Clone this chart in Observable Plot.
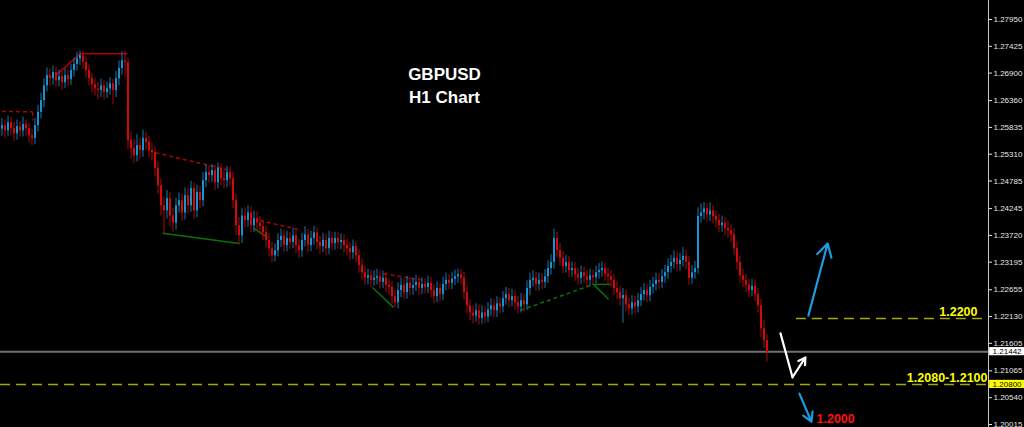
<!DOCTYPE html>
<html><head><meta charset="utf-8">
<script src="https://cdn.jsdelivr.net/npm/d3@7"></script>
<script src="https://cdn.jsdelivr.net/npm/@observablehq/plot@0.6"></script>
<style>html,body{margin:0;padding:0;background:#000;overflow:hidden}</style>
</head><body><div id="chart"></div>
<script>
// ---- data (GBPUSD H1) ----
const firstOpen = 1.2580;
const closes = [
1.2587,1.2577,1.2593,1.2581,1.2571,1.2585,1.2577,1.2589,1.2581,1.2567,1.2562,
1.2587,1.2613,1.2636,1.2665,1.2685,
1.2679,1.2691,1.2675,1.2683,1.2671,1.2685,1.2677,
1.2695,1.2707,1.2718,1.2724,
1.2711,1.2695,1.2679,1.2667,1.2659,1.2656,
1.2665,1.2652,1.2659,1.2669,1.2656,
1.2679,1.2699,1.2714,1.2711,
1.2558,
1.2542,1.2528,1.2548,1.2538,1.2562,1.2554,1.2538,1.2534,
1.2503,1.2469,1.2430,
1.2420,1.2444,1.2410,1.2396,1.2430,1.2440,1.2416,1.2450,1.2430,1.2464,1.2420,1.2456,1.2440,
1.2479,1.2495,
1.2489,1.2499,1.2475,1.2503,1.2483,1.2479,1.2495,1.2483,
1.2440,1.2391,1.2371,
1.2410,1.2401,1.2416,1.2391,1.2405,1.2396,1.2389,
1.2377,1.2362,1.2346,1.2332,1.2342,
1.2362,1.2370,1.2352,1.2366,1.2358,1.2371,1.2352,
1.2342,1.2362,1.2373,1.2352,1.2366,1.2377,1.2358,1.2350,
1.2362,1.2346,1.2366,1.2356,
1.2366,1.2358,1.2362,1.2352,
1.2346,1.2338,1.2350,1.2332,
1.2313,1.2299,1.2288,
1.2293,1.2284,1.2288,
1.2291,1.2280,1.2288,1.2274,1.2270,
1.2252,1.2240,
1.2264,1.2274,1.2260,1.2278,1.2268,
1.2274,1.2280,1.2268,1.2276,1.2270,1.2278,
1.2264,1.2252,1.2268,1.2256,
1.2276,1.2284,1.2278,1.2286,
1.2291,1.2295,1.2288,
1.2260,1.2234,1.2220,
1.2214,1.2224,1.2209,1.2220,1.2212,1.2226,
1.2234,1.2224,1.2238,1.2232,
1.2248,1.2256,1.2244,1.2252,
1.2240,1.2232,1.2244,1.2236,
1.2268,1.2284,1.2288,
1.2276,1.2284,1.2280,1.2291,
1.2307,1.2319,
1.2366,
1.2342,1.2327,1.2311,1.2319,1.2303,1.2307,
1.2295,1.2288,1.2299,1.2291,1.2284,1.2293,1.2289,
1.2299,1.2303,1.2307,1.2295,1.2291,1.2284,
1.2268,1.2260,1.2248,1.2254,
1.2236,1.2228,1.2240,1.2232,1.2244,
1.2256,1.2264,1.2254,1.2270,
1.2276,1.2284,1.2280,1.2291,1.2299,
1.2311,1.2319,1.2327,1.2315,1.2323,1.2331,
1.2319,1.2288,
1.2299,1.2307,
1.2409,
1.2416,1.2424,1.2412,1.2420,1.2409,
1.2401,1.2391,1.2396,1.2385,
1.2381,1.2373,
1.2346,1.2319,1.2293,1.2284,
1.2274,1.2264,1.2272,1.2256,
1.2234,1.2189,
1.2166,1.2142
];
const highs = [
1.2601,1.2598,1.2606,1.2603,1.2594,1.2598,1.2595,1.2604,1.2598,1.2591,1.2580,
1.2601,1.2627,1.2651,1.2679,1.2700,
1.2698,1.2704,1.2701,1.2696,1.2693,1.2698,1.2695,
1.2707,1.2719,1.2731,1.2733,
1.2732,1.2722,1.2706,1.2690,1.2679,1.2672,
1.2678,1.2675,1.2672,1.2681,1.2678,
1.2693,1.2714,1.2732,1.2733,
1.2718,
1.2575,1.2560,1.2569,1.2563,1.2578,1.2574,1.2566,1.2553,
1.2546,1.2516,1.2483,
1.2447,1.2460,1.2456,1.2425,1.2445,1.2455,1.2453,1.2465,1.2463,1.2478,1.2475,1.2470,1.2468,
1.2495,1.2510,
1.2508,1.2511,1.2510,1.2514,1.2512,1.2498,1.2507,1.2506,
1.2496,1.2453,1.2407,
1.2425,1.2426,1.2430,1.2428,1.2419,1.2418,1.2409,
1.2401,1.2390,1.2375,1.2358,1.2356,
1.2375,1.2384,1.2382,1.2380,1.2378,1.2386,1.2382,
1.2364,1.2376,1.2389,1.2384,1.2380,1.2390,1.2387,1.2370,
1.2376,1.2374,1.2380,1.2377,
1.2378,1.2377,1.2375,1.2373,
1.2364,1.2358,1.2363,1.2361,
1.2344,1.2326,1.2311,
1.2306,1.2304,1.2303,
1.2306,1.2303,1.2302,1.2300,1.2286,
1.2282,1.2264,
1.2279,1.2288,1.2286,1.2292,1.2289,
1.2288,1.2294,1.2291,1.2289,1.2287,1.2292,
1.2290,1.2276,1.2281,1.2279,
1.2290,1.2298,1.2295,1.2300,
1.2304,1.2306,1.2305,
1.2300,1.2272,1.2246,
1.2234,1.2238,1.2236,1.2234,1.2232,1.2240,
1.2248,1.2246,1.2252,1.2250,
1.2262,1.2270,1.2268,1.2266,
1.2264,1.2252,1.2258,1.2256,
1.2283,1.2298,1.2303,
1.2300,1.2298,1.2297,1.2305,
1.2322,1.2334,
1.2384,
1.2378,1.2356,1.2340,1.2333,1.2331,1.2320,
1.2319,1.2308,1.2312,1.2310,1.2303,1.2306,1.2304,
1.2312,1.2317,1.2320,1.2318,1.2308,1.2303,
1.2296,1.2281,1.2272,1.2268,
1.2265,1.2249,1.2254,1.2252,1.2258,
1.2270,1.2278,1.2276,1.2284,
1.2290,1.2298,1.2297,1.2305,1.2313,
1.2326,1.2333,1.2342,1.2339,1.2337,1.2348,
1.2344,1.2331,
1.2313,1.2321,
1.2426,
1.2434,1.2436,1.2434,1.2436,1.2430,
1.2420,1.2413,1.2410,1.2407,
1.2400,1.2393,
1.2385,1.2358,1.2331,1.2306,
1.2296,1.2286,1.2286,1.2284,
1.2268,1.2246,
1.2206,1.2178
];
const lows = [
1.2566,1.2562,1.2566,1.2568,1.2556,1.2559,1.2564,1.2565,1.2567,1.2553,1.2548,
1.2550,1.2575,1.2600,1.2622,1.2653,
1.2664,1.2666,1.2662,1.2663,1.2657,1.2660,1.2664,
1.2666,1.2682,1.2694,1.2705,
1.2697,1.2680,1.2665,1.2652,1.2645,1.2638,
1.2642,1.2637,1.2640,1.2647,1.2628,
1.2642,1.2665,1.2686,1.2682,
1.2540,
1.2522,1.2512,1.2516,1.2522,1.2525,1.2538,1.2524,1.2518,
1.2487,1.2452,1.2410,
1.2376,1.2404,1.2390,1.2378,1.2382,1.2416,1.2400,1.2402,1.2414,1.2417,1.2404,1.2407,1.2424,
1.2428,1.2465,
1.2474,1.2476,1.2460,1.2463,1.2469,1.2464,1.2466,1.2468,
1.2424,1.2372,1.2354,
1.2356,1.2387,1.2388,1.2377,1.2378,1.2382,1.2374,
1.2362,1.2347,1.2330,1.2318,1.2320,
1.2330,1.2348,1.2338,1.2340,1.2344,1.2346,1.2337,
1.2327,1.2329,1.2349,1.2338,1.2340,1.2353,1.2344,1.2335,
1.2338,1.2332,1.2334,1.2342,
1.2343,1.2345,1.2344,1.2338,
1.2332,1.2322,1.2325,1.2318,
1.2298,1.2284,1.2274,
1.2275,1.2270,1.2272,
1.2275,1.2267,1.2268,1.2260,1.2254,
1.2237,1.2230,
1.2228,1.2250,1.2246,1.2247,1.2254,
1.2255,1.2262,1.2254,1.2256,1.2257,1.2258,
1.2250,1.2238,1.2240,1.2242,
1.2244,1.2263,1.2265,1.2266,
1.2274,1.2278,1.2275,
1.2246,1.2218,1.2205,
1.2199,1.2202,1.2196,1.2198,1.2199,1.2201,
1.2213,1.2210,1.2211,1.2218,
1.2220,1.2235,1.2230,1.2232,
1.2226,1.2218,1.2220,1.2222,
1.2225,1.2254,1.2271,
1.2262,1.2263,1.2266,1.2268,
1.2278,1.2294,
1.2306,
1.2328,1.2312,1.2297,1.2298,1.2289,1.2290,
1.2282,1.2274,1.2276,1.2278,1.2270,1.2272,1.2276,
1.2277,1.2286,1.2290,1.2282,1.2277,1.2270,
1.2254,1.2246,1.2234,1.2200,
1.2222,1.2215,1.2216,1.2218,1.2220,
1.2232,1.2243,1.2240,1.2242,
1.2257,1.2263,1.2266,1.2268,1.2278,
1.2286,1.2298,1.2306,1.2301,1.2302,1.2310,
1.2305,1.2274,
1.2276,1.2286,
1.2296,
1.2396,1.2402,1.2398,1.2399,1.2395,
1.2387,1.2377,1.2378,1.2371,
1.2366,1.2358,
1.2332,1.2304,1.2278,1.2270,
1.2260,1.2250,1.2252,1.2242,
1.2220,1.2172,
1.2150,1.2124
];
const yTicks = [1.27950,1.27425,1.26900,1.26360,1.25835,1.25310,1.24785,1.24245,1.23720,1.23195,1.22655,1.22130,1.21605,1.21065,1.20540,1.20015];
const currentPrice = 1.21442;
const supportLevel = 1.2080;
const resistanceLevel = 1.2209;
const targetLevel = 1.2000;
const titleLines = ["GBPUSD", "H1 Chart"];
const priceTags = [
  {price: 1.21442, label: "1.21442", bg: "#ffffff"},
  {price: 1.20800, label: "1.20800", bg: "#ffff00"}
];
// trend-line annotations (bar index, price)
const trendLines = [
  {x1: 0, y1: 1.2615, x2: 10.2, y2: 1.2614, c: "red", dash: true},
  {x1: 10.2, y1: 1.2614, x2: 10.2, y2: 1.2597, c: "red", dash: true},
  {x1: 17.8, y1: 1.2685, x2: 26.2, y2: 1.2728, c: "red", dash: false},
  {x1: 26.2, y1: 1.2728, x2: 41.8, y2: 1.2728, c: "red", dash: false},
  {x1: 51.2, y1: 1.2534, x2: 76.2, y2: 1.2499, c: "red", dash: true},
  {x1: 53.5, y1: 1.2376, x2: 79.2, y2: 1.2356, c: "green", dash: false},
  {x1: 86, y1: 1.2401, x2: 98.5, y2: 1.2384, c: "red", dash: true},
  {x1: 83.8, y1: 1.2386, x2: 88.5, y2: 1.2368, c: "green", dash: false},
  {x1: 127.2, y1: 1.2297, x2: 140.5, y2: 1.2284, c: "red", dash: true},
  {x1: 123.5, y1: 1.2270, x2: 130.5, y2: 1.2231, c: "green", dash: false},
  {x1: 172.8, y1: 1.2225, x2: 196.2, y2: 1.2274, c: "green", dash: true},
  {x1: 196.8, y1: 1.2276, x2: 202.8, y2: 1.2276, c: "green", dash: false},
  {x1: 197.2, y1: 1.2276, x2: 202.2, y2: 1.2247, c: "green", dash: false}
];
// scenario arrows (bar index, price)
const arrowsBlue = [
  {x1: 268.8, y1: 1.2215, x2: 275.2, y2: 1.2356},
  {x1: 265.8, y1: 1.2062, x2: 269.8, y2: 1.2007}
];
const whitePath = [{x: 259.5, y: 1.2180}, {x: 263.5, y: 1.2094}];
const whiteArrow = [{x1: 263.5, y1: 1.2094, x2: 267.8, y2: 1.2133}];

// ---- build ----
const candles = closes.map((c, i) => ({
  i, open: i === 0 ? firstOpen : closes[i - 1], close: c, high: highs[i], low: lows[i]
}));
const BLUE = "#1792d2", RED = "#d40a0a", WICK_BLUE = "#1278b0", WICK_RED = "#b00808";
const xMax = 328.83;
const FONT = "'Liberation Sans', Arial, sans-serif";

const chart = Plot.plot({
  width: 1024, height: 427,
  marginLeft: 0, marginRight: 36, marginTop: 0, marginBottom: 0,
  style: {background: "#000", fontFamily: FONT, overflow: "visible"},
  x: {domain: [-0.5, xMax], axis: null},
  y: {domain: [1.19956, 1.28322], axis: null},
  color: {type: "identity"},
  marks: [
    // trend-line annotations
    Plot.link(trendLines.filter(d => d.c === "red" && d.dash), {x1: "x1", y1: "y1", x2: "x2", y2: "y2", stroke: "#b00000", strokeWidth: 1.5, strokeDasharray: "4,3"}),
    Plot.link(trendLines.filter(d => d.c === "red" && !d.dash), {x1: "x1", y1: "y1", x2: "x2", y2: "y2", stroke: "#b00000", strokeWidth: 1.5}),
    Plot.link(trendLines.filter(d => d.c === "green" && d.dash), {x1: "x1", y1: "y1", x2: "x2", y2: "y2", stroke: "#0a700a", strokeWidth: 1.5, strokeDasharray: "4,3"}),
    Plot.link(trendLines.filter(d => d.c === "green" && !d.dash), {x1: "x1", y1: "y1", x2: "x2", y2: "y2", stroke: "#0a700a", strokeWidth: 1.5}),
    // level lines
    Plot.ruleY([currentPrice], {stroke: "#6c7079", strokeWidth: 2}),
    Plot.ruleY([supportLevel], {stroke: "#a8a800", strokeWidth: 1.5, strokeDasharray: "10,6"}),
    Plot.ruleY([resistanceLevel], {x1: 264.8, x2: xMax, stroke: "#a8a800", strokeWidth: 1.5, strokeDasharray: "10,6"}),
    // candles
    Plot.ruleX(candles, {x: "i", y1: "low", y2: "high", stroke: d => d.close >= d.open ? WICK_BLUE : WICK_RED, strokeWidth: 1}),
    Plot.ruleX(candles, {x: "i", y1: "open", y2: "close", stroke: d => d.close >= d.open ? BLUE : RED, strokeWidth: 2}),
    // scenario arrows
    Plot.arrow(arrowsBlue, {x1: "x1", y1: "y1", x2: "x2", y2: "y2", stroke: "#1a9ee0", strokeWidth: 2.2, headLength: 10, bend: 0}),
    Plot.line(whitePath, {x: "x", y: "y", stroke: "#ffffff", strokeWidth: 2.2}),
    Plot.arrow(whiteArrow, {x1: "x1", y1: "y1", x2: "x2", y2: "y2", stroke: "#ffffff", strokeWidth: 2.2, headLength: 10, bend: 0}),
    // level labels
    Plot.text([resistanceLevel], {x: xMax, y: d => d, dx: -11, dy: -7, text: () => "1.2200", textAnchor: "end", fill: "#ffff00", fontSize: 12.5, fontWeight: "bold"}),
    Plot.text([supportLevel], {x: xMax, y: d => d, dx: -1, dy: -6.5, text: () => "1.2080-1.2100", textAnchor: "end", fill: "#ffff00", fontSize: 12.5, fontWeight: "bold"}),
    Plot.text([targetLevel], {x: 271.5, y: d => d, dy: -6.3, text: () => "1.2000", textAnchor: "start", fill: "#ff1010", fontSize: 12.5, fontWeight: "bold"}),
    // title
    Plot.text([titleLines[0]], {frameAnchor: "top-left", dx: 444, dy: 74, lineAnchor: "middle", text: d => d, textAnchor: "middle", fill: "#ffffff", fontSize: 17, fontWeight: "bold"}),
    Plot.text([titleLines[1]], {frameAnchor: "top-left", dx: 444, dy: 97, lineAnchor: "middle", text: d => d, textAnchor: "middle", fill: "#ffffff", fontSize: 17, fontWeight: "bold"}),
    // price axis
    Plot.ruleX([xMax], {stroke: "#c8c8c8", strokeWidth: 1}),
    Plot.axisY(yTicks, {anchor: "right", tickSize: 3, tickPadding: 2, tickFormat: d => d.toFixed(5), fontSize: 8, color: "#e6e6e6"}),
    Plot.rect(priceTags, {x1: 329.2, x2: 341, y1: d => d.price - 0.0008, y2: d => d.price + 0.0008, fill: "bg"}),
    Plot.text(priceTags, {x: 330.2, y: "price", text: "label", textAnchor: "start", fill: "#000", fontSize: 8})
  ]
});
document.getElementById("chart").appendChild(chart);
</script>
</body></html>
